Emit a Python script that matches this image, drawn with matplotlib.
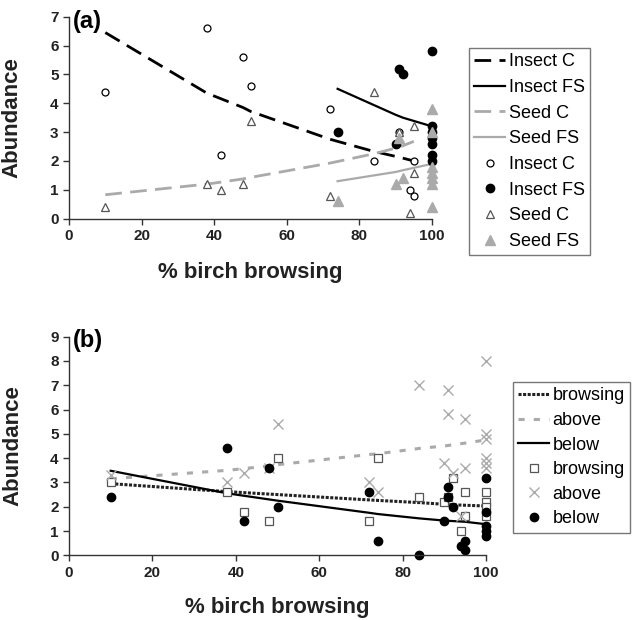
import matplotlib
matplotlib.use('Agg')
import matplotlib.pyplot as plt

plt.rcParams['font.family'] = ['Liberation Sans', 'DejaVu Sans']

GRAY = '#aaaaaa'
DARK = '#555555'

# ---- panel (a) data ----
ic_x = [10, 38, 42, 48, 50, 72, 84, 91, 94, 95, 95]
ic_y = [4.4, 6.6, 2.2, 5.6, 4.6, 3.8, 2.0, 3.0, 1.0, 2.0, 0.8]
ifs_x = [74, 90, 91, 92, 100, 100, 100, 100, 100, 100, 100]
ifs_y = [3.0, 2.6, 5.2, 5.0, 5.8, 3.2, 3.0, 2.8, 2.6, 2.2, 2.0]
sc_x = [10, 38, 42, 48, 50, 72, 84, 91, 94, 95, 95, 100]
sc_y = [0.4, 1.2, 1.0, 1.2, 3.4, 0.8, 4.4, 3.0, 0.2, 3.2, 1.6, 3.0]
sfs_x = [74, 90, 91, 92, 100, 100, 100, 100, 100, 100, 100]
sfs_y = [0.6, 1.2, 2.8, 1.4, 3.8, 3.0, 1.8, 1.6, 1.4, 1.2, 0.4]

# fitted curves
ic_fit_x = [10, 38, 42, 48, 50, 72, 84, 91, 95]
ic_fit_y = [6.45, 4.35, 4.15, 3.85, 3.72, 2.75, 2.33, 2.13, 2.0]
ifs_fit_x = [74, 90, 92, 100]
ifs_fit_y = [4.5, 3.6, 3.5, 3.2]
sc_fit_x = [10, 38, 42, 48, 50, 72, 84, 91, 95]
sc_fit_y = [0.83, 1.2, 1.27, 1.38, 1.43, 1.93, 2.25, 2.48, 2.68]
sfs_fit_x = [74, 90, 92, 100]
sfs_fit_y = [1.3, 1.62, 1.68, 1.9]

# ---- panel (b) data ----
br_x = [10, 38, 42, 48, 50, 72, 74, 84, 90, 91, 92, 94, 95, 95, 100, 100, 100, 100]
br_y = [3.0, 2.6, 1.8, 1.4, 4.0, 1.4, 4.0, 2.4, 2.2, 2.4, 3.2, 1.0, 2.6, 1.6, 2.6, 2.2, 2.0, 1.6]
ab_x = [10, 38, 42, 48, 50, 72, 74, 84, 90, 91, 91, 92, 94, 95, 95, 100, 100, 100, 100, 100, 100]
ab_y = [3.3, 3.0, 3.4, 3.6, 5.4, 3.0, 2.6, 7.0, 3.8, 6.8, 5.8, 3.4, 1.6, 5.6, 3.6, 8.0, 5.0, 4.8, 4.0, 3.8, 3.6]
be_x = [10, 38, 42, 48, 50, 72, 74, 84, 90, 91, 91, 92, 94, 95, 95, 100, 100, 100, 100, 100]
be_y = [2.4, 4.4, 1.4, 3.6, 2.0, 2.6, 0.6, 0.0, 1.4, 2.8, 2.4, 2.0, 0.4, 0.6, 0.2, 3.2, 1.8, 1.2, 1.0, 0.8]

br_fit_x = [10, 38, 42, 48, 50, 72, 74, 84, 90, 92, 95, 100]
br_fit_y = [2.95, 2.62, 2.58, 2.52, 2.5, 2.28, 2.26, 2.17, 2.1, 2.08, 2.06, 2.03]
ab_fit_x = [10, 38, 42, 48, 50, 72, 74, 84, 90, 95, 100]
ab_fit_y = [3.15, 3.5, 3.57, 3.68, 3.73, 4.15, 4.18, 4.4, 4.5, 4.62, 4.75]
be_fit_x = [10, 38, 42, 48, 50, 72, 74, 84, 90, 95, 100]
be_fit_y = [3.48, 2.55, 2.45, 2.3, 2.25, 1.75, 1.7, 1.52, 1.43, 1.38, 1.28]

W, H = 637, 620
fig = plt.figure(figsize=(W / 100, H / 100), dpi=100)
ax1 = fig.add_axes([69 / W, 1 - 218.7 / H, (432 - 69) / W, (218.7 - 16.7) / H])
ax2 = fig.add_axes([69 / W, 1 - 555.3 / H, (486 - 69) / W, (555.3 - 336.7) / H])


def style_axes(ax, ymax, ylab_x, xlab_y):
    ax.set_xlim(0, 100)
    ax.set_ylim(0, ymax)
    ax.set_xticks(range(0, 101, 20))
    ax.set_yticks(range(0, ymax + 1))
    for s in ['top', 'right']:
        ax.spines[s].set_visible(False)
    for s in ['left', 'bottom']:
        ax.spines[s].set_color('#333333')
        ax.spines[s].set_linewidth(1.0)
    ax.tick_params(direction='out', length=4, width=1, colors='#333333',
                   labelcolor='#222222', labelsize=11)
    for lab in ax.get_xticklabels() + ax.get_yticklabels():
        lab.set_fontweight('bold')
    ax.set_ylabel('Abundance', fontsize=16, fontweight='bold', color='#222222')
    ax.set_xlabel('% birch browsing', fontsize=16, fontweight='bold', color='#222222')
    ax.yaxis.set_label_coords(ylab_x, 0.5)
    ax.xaxis.set_label_coords(0.5, xlab_y)


# panel (a)
l1, = ax1.plot(ic_fit_x, ic_fit_y, color='black', lw=2.0, dashes=(6, 3), label='Insect C')
l2, = ax1.plot(ifs_fit_x, ifs_fit_y, color='black', lw=1.6, label='Insect FS')
l3, = ax1.plot(sc_fit_x, sc_fit_y, color=GRAY, lw=2.0, dashes=(6, 3), label='Seed C')
l4, = ax1.plot(sfs_fit_x, sfs_fit_y, color=GRAY, lw=1.6, label='Seed FS')
m1, = ax1.plot(ic_x, ic_y, 'o', ms=5, mfc='white', mec='black', mew=0.9, clip_on=False, label='Insect C')
m2, = ax1.plot(ifs_x, ifs_y, 'o', ms=6, mfc='black', mec='black', clip_on=False, label='Insect FS')
m3, = ax1.plot(sc_x, sc_y, '^', ms=6, mfc='white', mec=DARK, mew=0.9, clip_on=False, label='Seed C')
m4, = ax1.plot(sfs_x, sfs_y, '^', ms=6.5, mfc=GRAY, mec=GRAY, clip_on=False, label='Seed FS')
style_axes(ax1, 7, -0.127, -0.215)
ax1.text(1, 6.85, '(a)', fontsize=17, fontweight='bold', va='center', ha='left')

fig.legend(handles=[l1, l2, l3, l4, m1, m2, m3, m4], loc='upper left',
           bbox_to_anchor=(469 / W, 1 - 48 / H), fontsize=13, frameon=True,
           fancybox=False, edgecolor='#555555', handlelength=1.7,
           handletextpad=0.2, labelspacing=0.48, borderpad=0.3,
           borderaxespad=0)

# panel (b)
n1, = ax2.plot(br_fit_x, br_fit_y, color='#222222', lw=2.2, dashes=(1, 0.5), label='browsing')
n2, = ax2.plot(ab_fit_x, ab_fit_y, color=GRAY, lw=2.2, dashes=(2, 3), label='above')
n3, = ax2.plot(be_fit_x, be_fit_y, color='black', lw=1.6, label='below')
p1, = ax2.plot(br_x, br_y, 's', ms=6, mfc='white', mec=DARK, mew=0.9, clip_on=False, label='browsing')
p2, = ax2.plot(ab_x, ab_y, 'x', ms=7, mec=GRAY, mew=1.0, clip_on=False, label='above')
p3, = ax2.plot(be_x, be_y, 'o', ms=6, mfc='black', mec='black', clip_on=False, label='below')
style_axes(ax2, 9, -0.11, -0.19)
ax2.text(1, 8.85, '(b)', fontsize=17, fontweight='bold', va='center', ha='left')

fig.legend(handles=[n1, n2, n3, p1, p2, p3], loc='upper left',
           bbox_to_anchor=(513 / W, 1 - 382 / H), fontsize=13, frameon=True,
           fancybox=False, edgecolor='#555555', handlelength=1.7,
           handletextpad=0.2, labelspacing=0.42, borderpad=0.3,
           borderaxespad=0)

fig.savefig('out.png', dpi=100)
